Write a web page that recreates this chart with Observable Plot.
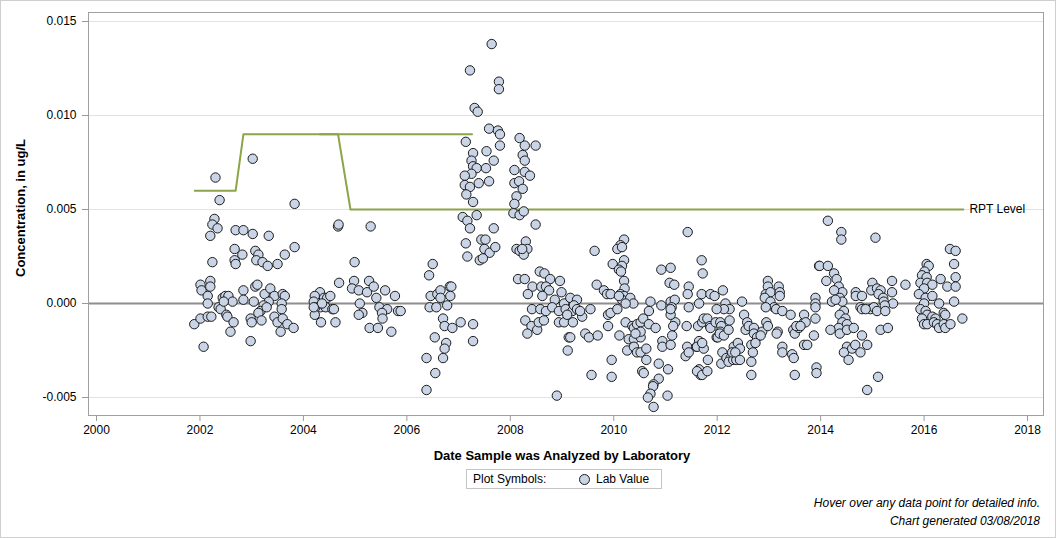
<!DOCTYPE html>
<html><head><meta charset="utf-8">
<script src="https://cdn.jsdelivr.net/npm/d3@7"></script>
<script src="https://cdn.jsdelivr.net/npm/@observablehq/plot@0.6"></script>
<style>
body{margin:0;background:#fff;font-family:"Liberation Sans",Arial,sans-serif;color:#000;}
#page{position:relative;width:1056px;height:538px;overflow:hidden;background:#fff;}
#border{position:absolute;left:0;top:0;width:1056px;height:538px;box-sizing:border-box;border:1px solid #cfcfcf;pointer-events:none;}
#chart{position:absolute;left:0;top:0;}
.ylab{position:absolute;left:20px;top:208px;transform:translate(-50%,-50%) rotate(-90deg);font-weight:bold;font-size:13px;white-space:nowrap;}
.xlab{position:absolute;left:562px;top:455px;transform:translate(-50%,-50%);font-weight:bold;font-size:13px;white-space:nowrap;}
.legend{position:absolute;left:466px;top:469px;width:196px;height:20px;box-sizing:border-box;border:1px solid #c4c4c4;font-size:12px;}
.legend span{position:absolute;top:50%;transform:translateY(-50%);white-space:nowrap;}
.legend .sw{position:absolute;left:112px;top:50%;width:9px;height:9px;margin-top:-5.5px;border-radius:50%;background:#c9d5e6;border:1px solid #1b1b1b;}
.foot{position:absolute;right:16px;font-style:italic;font-size:12px;white-space:nowrap;transform:translateY(-50%);}
</style></head>
<body>
<div id="page">
  <div id="chart"></div>
  <div class="ylab">Concentration, in ug/L</div>
  <div class="xlab">Date Sample was Analyzed by Laboratory</div>
  <div class="legend"><span style="left:6px">Plot Symbols:</span><div class="sw"></div><span style="left:129px">Lab Value</span></div>
  <div class="foot" style="top:503px">Hover over any data point for detailed info.</div>
  <div class="foot" style="top:521px">Chart generated 03/08/2018</div>
  <div id="border"></div>
</div>
<script>
// ---- Data (decimal year, concentration ug/L) ----
const points2002 = [
[2001.89,-0.0011],[2002.01,0.0010],[2002.03,0.0007],[2002.20,0.0012],[2002.20,0.0009],[2002.15,0.0004],[2002.15,0.0000],[2002.36,-0.0002],[2002.40,-0.0003],[2002.44,0.0003],[2002.49,0.0004],[2002.55,0.0004],[2002.63,0.0001],[2002.46,0.0001],[2002.84,0.0007],[2002.84,0.0002],[2003.04,0.0001],[2003.07,0.0009],[2003.11,0.0010],[2003.25,0.0005],[2003.36,0.0008],[2003.44,0.0004],[2003.33,0.0001],[2003.60,0.0005],[2003.64,0.0004],[2003.58,0.0000],[2003.23,-0.0001],[2003.17,-0.0004],[2003.29,-0.0002],[2003.13,-0.0005],[2003.58,-0.0003],[2002.01,-0.0008],[2002.15,-0.0007],[2002.22,-0.0007],[2002.51,-0.0006],[2002.53,-0.0007],[2002.65,-0.0010],[2002.59,-0.0015],[2002.98,-0.0008],[2003.00,-0.0010],[2003.19,-0.0009],[2003.44,-0.0007],[2003.50,-0.0010],[2003.60,-0.0008],[2003.69,-0.0011],[2003.81,-0.0013],[2003.56,-0.0015],[2002.07,-0.0023],[2002.98,-0.0020],
[2002.30,0.0067],[2003.02,0.0077],[2002.38,0.0055],[2003.83,0.0053],[2002.28,0.0045],[2002.24,0.0042],[2002.34,0.0040],[2002.20,0.0036],[2002.69,0.0039],[2002.84,0.0039],[2003.02,0.0037],[2003.33,0.0036],[2002.67,0.0029],[2002.82,0.0026],[2002.67,0.0023],[2002.69,0.0021],[2003.07,0.0028],[2003.13,0.0026],[2003.09,0.0023],[2003.21,0.0022],[2003.31,0.0020],[2003.50,0.0021],[2003.64,0.0026],[2003.83,0.0030],[2002.24,0.0022]
];
const points2004 = [
[2004.32,0.0006],[2004.22,0.0004],[2004.40,0.0003],[2004.46,0.0003],[2004.52,0.0004],[2004.20,0.0001],[2004.33,-0.0002],[2004.23,-0.0002],[2004.43,-0.0002],[2004.56,-0.0003],[2004.59,-0.0003],[2004.22,-0.0006],[2004.34,-0.0010],[2004.62,-0.0010],[2004.36,0.0000],[2004.20,-0.0002],
[2004.67,0.0041],[2004.68,0.0042],[2005.30,0.0041],[2004.99,0.0022],[2004.69,0.0011],
[2004.98,0.0012],[2005.27,0.0012],[2004.94,0.0008],[2005.07,0.0007],[2005.23,0.0006],[2005.36,0.0009],[2005.58,0.0007],[2005.77,0.0004],[2005.41,0.0003],[2005.09,0.0000],[2005.47,-0.0002],[2005.62,-0.0003],[2005.52,-0.0005],[2005.53,-0.0008],[2005.83,-0.0004],[2005.14,-0.0005],[2005.07,-0.0006],[2005.28,-0.0013],[2005.44,-0.0013],[2005.70,-0.0015]
];
const points2006 = [
[2006.50,0.0021],[2006.43,0.0015],[2006.46,0.0004],[2006.59,0.0005],[2006.65,0.0007],[2006.83,0.0009],[2006.86,0.0009],[2006.84,0.0004],[2006.65,0.0003],[2006.44,-0.0002],[2006.57,-0.0002],[2006.78,-0.0001],[2005.88,-0.0004],[2006.70,-0.0008],[2006.73,-0.0012],[2006.88,-0.0013],[2007.04,-0.0010],[2007.28,-0.0011],[2007.28,-0.0020],[2006.54,-0.0018],[2006.76,-0.0021],[2006.73,-0.0024],[2006.70,-0.0029],[2006.38,-0.0029],[2006.55,-0.0037],[2006.38,-0.0046]
];
const points2007 = [
[2007.64,0.0138],[2007.22,0.0124],[2007.78,0.0118],[2007.78,0.0114],[2007.31,0.0104],[2007.37,0.0102],[2007.59,0.0093],[2007.76,0.0092],[2007.80,0.0090],[2008.18,0.0088],[2008.49,0.0084],[2008.28,0.0084],[2007.80,0.0084],[2007.14,0.0086],[2007.28,0.0080],[2007.54,0.0081],[2008.24,0.0079],[2007.25,0.0076],[2007.68,0.0076],[2008.28,0.0076],[2007.28,0.0073],[2007.35,0.0072],[2007.25,0.0069],[2007.53,0.0072],[2008.08,0.0071],[2008.28,0.0070],[2008.38,0.0068],[2007.12,0.0068],[2007.59,0.0065],[2007.39,0.0064],[2007.12,0.0063],[2007.22,0.0062],[2007.15,0.0058],[2008.08,0.0064],[2008.17,0.0065],[2008.24,0.0061],[2008.12,0.0057],[2007.28,0.0054],[2008.08,0.0053],[2008.06,0.0048],[2008.18,0.0047],[2008.26,0.0049],[2007.35,0.0047],[2007.08,0.0046],[2007.17,0.0044],[2007.22,0.0040],[2007.68,0.0040],[2008.49,0.0042],[2007.14,0.0032],[2007.17,0.0025],[2007.44,0.0034],[2007.52,0.0034],[2007.50,0.0029],[2007.60,0.0027],[2007.71,0.0030],[2007.41,0.0023],[2007.47,0.0024],[2008.12,0.0029],[2008.18,0.0028],[2008.30,0.0033],[2008.33,0.0029],[2008.26,0.0026],[2008.23,0.0029]
];
const points2008 = [
[2008.15,0.0013],[2008.28,0.0013],[2008.57,0.0017],[2008.66,0.0016],[2008.77,0.0013],[2008.96,0.0012],[2008.43,0.0009],[2008.34,0.0005],[2008.60,0.0009],[2008.69,0.0009],[2008.75,0.0007],[2008.62,0.0004],[2008.86,0.0002],[2008.99,0.0006],[2009.04,0.0000],[2009.16,0.0003],[2009.29,0.0002],[2008.42,-0.0003],[2008.58,-0.0003],[2008.69,-0.0004],[2008.81,-0.0002],[2008.94,-0.0004],[2009.07,-0.0003],[2009.20,-0.0004],[2008.29,-0.0009],[2008.41,-0.0012],[2008.52,-0.0014],[2008.33,-0.0016],[2008.55,-0.0010],[2008.65,-0.0009],[2008.94,-0.0010],[2009.04,-0.0010],[2009.13,-0.0018],[2009.11,-0.0025],[2009.21,-0.0010],[2009.10,-0.0006],[2008.90,-0.0049],
[2009.23,-0.0001],[2009.29,-0.0003],[2009.39,-0.0007],[2009.55,-0.0003],[2009.35,-0.0004],[2009.45,-0.0016],[2009.52,-0.0018],[2009.69,-0.0017],[2009.16,-0.0018]
];
const points2010 = [
[2011.43,0.0038],[2010.20,0.0034],[2010.13,0.0031],[2010.07,0.0029],[2010.16,0.0030],[2009.63,0.0028],[2010.20,0.0023],[2009.98,0.0021],[2010.16,0.0020],[2010.10,0.0018],[2010.14,0.0017],[2010.92,0.0018],[2011.10,0.0019],[2009.67,0.0010],[2010.20,0.0012],[2010.21,0.0008],[2009.81,0.0007],[2009.87,0.0005],[2009.94,0.0005],[2010.13,0.0005],[2010.20,0.0004],[2010.16,0.0002],[2010.32,0.0003],[2010.38,0.0000],[2010.10,0.0004],[2010.23,0.0000],[2011.08,0.0011],[2011.17,0.0010],[2011.45,0.0009],[2011.43,0.0005],[2010.71,0.0001],[2010.92,-0.0001],[2011.10,0.0001],[2011.18,0.0002],[2011.12,-0.0002],[2011.45,-0.0002],
[2009.89,-0.0006],[2009.94,-0.0005],[2010.07,-0.0003],[2009.89,-0.0012],[2010.11,-0.0017],
[2010.23,-0.0010],[2010.36,-0.0012],[2010.39,-0.0013],[2010.45,-0.0011],[2010.52,-0.0010],[2010.57,-0.0008],[2010.68,-0.0004],[2010.68,-0.0011],[2010.81,-0.0013],[2010.29,-0.0019],[2010.39,-0.0019],[2010.52,-0.0018],[2010.52,-0.0015],[2010.42,-0.0016],[2010.26,-0.0025],[2010.39,-0.0023],[2010.45,-0.0026],[2010.52,-0.0026],[2010.63,-0.0024],[2010.63,-0.0030],[2010.87,-0.0032],[2011.05,-0.0035],[2010.55,-0.0036],[2010.58,-0.0037],[2010.87,-0.0040],[2010.77,-0.0043],[2010.76,-0.0044],[2010.71,-0.0048],[2010.66,-0.0050],[2010.77,-0.0055],[2011.04,-0.0049],[2009.96,-0.0030],[2009.96,-0.0039],[2009.57,-0.0038],
[2010.94,-0.0020],[2010.94,-0.0023],[2011.10,-0.0022],[2011.13,-0.0017],[2011.19,-0.0010],[2011.15,-0.0012],[2011.10,-0.0006],[2011.10,-0.0003],[2011.41,-0.0012],[2011.42,-0.0023],[2011.39,-0.0028],[2011.45,-0.0026],[2011.60,-0.0023],[2011.65,-0.0020],[2011.65,-0.0035],[2011.68,-0.0038]
];
const points2012 = [
[2011.70,0.0023],[2011.72,0.0016],[2011.65,0.0000],[2011.70,0.0005],[2011.87,0.0005],[2011.95,0.0004],[2012.11,0.0007],[2011.63,-0.0012],[2011.71,-0.0010],[2011.74,-0.0008],[2011.81,-0.0008],[2011.86,-0.0012],[2011.87,-0.0013],[2011.97,-0.0010],[2011.99,-0.0018],[2012.01,-0.0018],[2012.06,-0.0010],[2012.08,-0.0012],[2012.06,-0.0015],[2012.05,-0.0016],[2012.13,-0.0017],[2012.22,-0.0014],[2012.24,-0.0009],[2012.16,0.0000],[2012.24,-0.0003],[2012.13,-0.0003],[2011.99,-0.0003],[2011.61,-0.0023],[2011.74,-0.0024],[2011.71,-0.0021],[2011.82,-0.0030],[2011.61,-0.0036],[2011.71,-0.0038],[2011.81,-0.0036],[2012.10,-0.0026],[2012.08,-0.0032],[2012.18,-0.0029],[2012.26,-0.0029],[2012.22,-0.0031],[2012.31,-0.0030],[2012.37,-0.0030],[2012.32,-0.0023],[2012.40,-0.0021],[2012.44,-0.0024],[2012.29,-0.0026],[2012.35,-0.0026],[2012.44,-0.0030],[2012.48,0.0001],[2012.52,-0.0006],[2012.58,-0.0010],[2012.55,-0.0014],[2012.61,-0.0012],[2012.71,-0.0013],[2012.71,-0.0016],[2012.77,-0.0018],[2012.66,-0.0022],[2012.74,-0.0021],[2012.69,-0.0026],[2012.66,-0.0031],[2012.66,-0.0038],[2012.87,-0.0015],[2012.84,-0.0017],[2012.95,-0.0010],[2012.98,-0.0012],[2012.98,0.0012],[2012.98,0.0009],[2012.94,0.0005],[2013.03,0.0006],[2013.19,0.0009],[2013.21,0.0006],[2013.21,0.0004],[2012.92,0.0003],[2013.03,0.0001],[2013.10,-0.0002],[2013.14,-0.0003],[2013.26,-0.0004],[2013.42,-0.0006],[2012.94,-0.0002],[2013.17,-0.0015],[2013.15,-0.0016],[2013.26,-0.0023],[2013.26,-0.0026],[2013.45,-0.0027],[2013.48,-0.0029],[2013.47,-0.0014],[2013.50,-0.0016],[2013.58,-0.0013],[2013.68,-0.0010],[2013.68,-0.0006],[2013.71,-0.0010],[2013.53,-0.0012],[2013.61,-0.0012],[2013.68,-0.0022],[2013.74,-0.0022],[2013.50,-0.0038],[2013.97,0.0020]
];
const points2014 = [
[2013.90,0.0003],[2013.90,0.0000],[2013.90,-0.0002],[2013.90,-0.0008],[2013.87,-0.0017],[2013.92,-0.0034],[2013.92,-0.0037],
[2014.14,0.0044],[2014.40,0.0038],[2014.40,0.0034],[2015.06,0.0035],[2013.98,0.0020],[2014.14,0.0020],[2014.11,0.0012],[2014.26,0.0016],[2014.31,0.0013],[2014.32,0.0008],[2014.35,0.0009],[2014.42,0.0006],[2014.26,0.0007],[2014.37,0.0003],[2014.42,0.0001],[2014.22,0.0001],[2014.29,0.0002],
[2014.45,-0.0004],[2014.37,-0.0006],[2014.48,-0.0008],[2014.42,-0.0010],[2014.51,-0.0011],[2014.35,-0.0013],[2014.37,-0.0016],[2014.51,-0.0014],[2014.64,-0.0013],[2014.19,-0.0014],[2014.80,-0.0017],[2014.51,-0.0023],[2014.45,-0.0026],[2014.54,-0.0030],[2014.61,-0.0024],[2014.67,-0.0022],[2014.77,-0.0026],[2014.90,-0.0022],
[2014.68,0.0006],[2014.68,0.0004],[2014.80,0.0004],[2014.77,-0.0002],[2014.80,-0.0003],[2015.00,0.0011],[2014.98,0.0007],[2015.09,0.0008],[2015.16,0.0007],[2015.12,0.0005],[2015.21,0.0003],[2015.22,0.0001],[2015.38,0.0012],[2015.38,0.0006],[2015.40,0.0000],[2015.24,-0.0001],[2015.64,0.0010],[2014.96,-0.0003],[2015.03,-0.0002],[2015.09,-0.0004],[2015.25,-0.0004],[2015.16,-0.0014],[2015.30,-0.0013],[2014.87,-0.0003],[2015.11,-0.0039],[2014.90,-0.0046]
];
const points2016 = [
[2016.50,0.0029],[2016.61,0.0028],[2016.58,0.0021],[2016.05,0.0021],[2016.09,0.0020],[2016.01,0.0017],[2015.96,0.0015],[2016.05,0.0014],[2015.93,0.0011],[2016.06,0.0011],[2016.16,0.0010],[2016.00,0.0008],[2015.90,0.0005],[2016.03,0.0003],[2016.16,0.0004],[2016.00,0.0000],[2016.29,0.0000],[2015.93,-0.0003],[2016.03,-0.0004],[2016.06,-0.0006],[2016.16,-0.0007],[2016.22,-0.0008],[2015.96,-0.0008],[2016.38,-0.0005],[2016.41,-0.0006],[2016.00,-0.0011],[2016.06,-0.0011],[2016.19,-0.0010],[2016.25,-0.0011],[2016.29,-0.0013],[2016.38,-0.0011],[2016.41,-0.0013],[2016.51,-0.0011],[2016.32,0.0013],[2016.45,0.0009],[2016.61,0.0014],[2016.61,0.0009],[2016.58,0.0001],[2016.74,-0.0008]
];

// RPT level (two overlapping step traces)
const rptDatesA  = [2001.90, 2002.69, 2002.84, 2004.67, 2004.91, 2016.76];
const rptLevelsA = [0.006,   0.006,   0.009,   0.009,   0.005,   0.005];
const rptDatesB  = [2004.32, 2007.26];
const rptLevelsB = [0.009,   0.009];
const rptLabel = "RPT Level";

// Axes
const xTicks = [2000, 2002, 2004, 2006, 2008, 2010, 2012, 2014, 2016, 2018];
const yTicks = [-0.005, 0.000, 0.005, 0.010, 0.015];
const yGrid  = [-0.005, 0.005, 0.010, 0.015];
const xDomain = [1999.845, 2018.309];
const yDomain = [-0.005957, 0.015479];

// ---- Build ----
const labData = [].concat(points2002, points2004, points2006, points2007, points2008, points2010, points2012, points2014, points2016)
  .map(([date, value]) => ({date, value}));
const rptA = rptDatesA.map((d, i) => ({date: d, level: rptLevelsA[i]}));
const rptB = rptDatesB.map((d, i) => ({date: d, level: rptLevelsB[i]}));
const rptEnd = [rptA[rptA.length - 1]];
const yFmt = d => (d < 0 ? "-" : "") + Math.abs(d).toFixed(3);
const green = "#8ca44a";

const chart = Plot.plot({
  width: 1056, height: 440,
  marginLeft: 88, marginRight: 13, marginTop: 12, marginBottom: 25,
  style: {fontFamily: "'Liberation Sans', Arial, sans-serif", fontSize: "12px", background: "transparent", color: "#000", overflow: "visible"},
  x: {domain: xDomain},
  y: {domain: yDomain},
  marks: [
    Plot.gridY(yGrid, {stroke: "#e2e2e2", strokeOpacity: 1}),
    Plot.ruleY([0], {stroke: "#8e8e8e", strokeWidth: 2}),
    Plot.line(rptA, {x: "date", y: "level", stroke: green, strokeWidth: 2}),
    Plot.line(rptB, {x: "date", y: "level", stroke: green, strokeWidth: 2}),
    Plot.dot(labData, {x: "date", y: "value", r: 4.7, fill: "#c9d5e6", stroke: "#1b1b1b", strokeWidth: 1, fillOpacity: 1}),
    Plot.text(rptEnd, {x: "date", y: "level", text: () => rptLabel, dx: 6, textAnchor: "start", fontSize: 12, fill: "#000"}),
    Plot.axisX(xTicks, {tickSize: 6, tickPadding: 4, stroke: "#999", fill: "#000", label: null, tickFormat: d => String(d)}),
    Plot.axisY(yTicks, {tickSize: 6, tickPadding: 6, stroke: "#999", fill: "#000", label: null, tickFormat: yFmt}),
    Plot.frame({stroke: "#a0a0a0"})
  ]
});
document.getElementById("chart").appendChild(chart);
</script>
</body></html>
